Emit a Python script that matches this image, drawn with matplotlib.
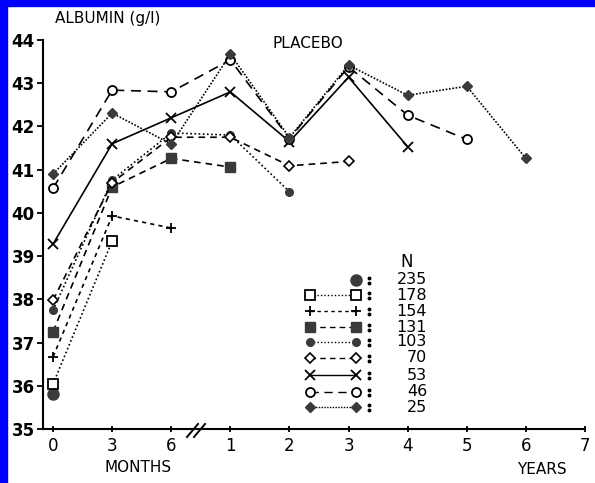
import matplotlib.pyplot as plt
from matplotlib.lines import Line2D

# x positions: 0,1,2 = months 0,3,6 ; 3..9 = years 1..7
xpos = [0, 1, 2, 3, 4, 5, 6, 7, 8, 9]
xlabels = ["0", "3", "6", "1", "2", "3", "4", "5", "6", "7"]

n_labels = ["235", "178", "154", "131", "103", "70", "53", "46", "25"]

alb_235 = [35.82]
alb_178 = [36.04, 39.35]
alb_154 = [36.67, 39.93, 39.65]
alb_131 = [37.25, 40.60, 41.26, 41.06]
alb_103 = [37.75, 40.76, 41.85, 41.80, 40.49]
alb_70 = [37.98, 40.70, 41.75, 41.75, 41.09, 41.19]
alb_53 = [39.28, 41.60, 42.20, 42.80, 41.65, 43.14, 41.53]
alb_46 = [40.57, 42.84, 42.80, 43.54, 41.72, 43.38, 42.26, 41.70]
alb_25 = [40.90, 42.31, 41.59, 43.67, 41.74, 43.42, 42.72, 42.93, 41.26]

series = [alb_235, alb_178, alb_154, alb_131, alb_103, alb_70, alb_53, alb_46, alb_25]

dark = "#3a3a3a"
styles = [
    dict(ls="none", marker="o", ms=8, mfc=dark, mec=dark),
    dict(ls=(0, (1, 1.5)), marker="s", ms=6.5, mfc="white", mec="black", mew=1.3),
    dict(ls=(0, (2.5, 2.5)), marker="+", ms=7, mec="black", mew=1.3),
    dict(ls=(0, (4, 3)), marker="s", ms=6.5, mfc=dark, mec=dark),
    dict(ls=(0, (1, 1.5)), marker="o", ms=5.5, mfc=dark, mec=dark),
    dict(ls=(0, (4, 3)), marker="D", ms=5, mfc="white", mec="black", mew=1.2),
    dict(ls="-", marker="x", ms=7, mec="black", mew=1.3),
    dict(ls=(0, (6, 4)), marker="o", ms=6.5, mfc="white", mec="black", mew=1.3),
    dict(ls=(0, (1, 1)), marker="D", ms=5.5, mfc=dark, mec=dark),
]

W, H = 595, 483
fig = plt.figure(figsize=(W / 100, H / 100), dpi=100)
fig.patch.set_facecolor("white")


def fx(px):
    return px / W


def fy(py):
    return 1 - py / H


# blue scan border (top and left)
fig.patches.append(plt.Rectangle((0, fy(6)), 1, 6 / H, transform=fig.transFigure,
                                 color="#0000ff", zorder=0))
fig.patches.append(plt.Rectangle((0, 0), 7 / W, 1, transform=fig.transFigure,
                                 color="#0000ff", zorder=0))

ax = fig.add_axes([fx(43), fy(429), fx(585) - fx(43), (429 - 40) / H])
ax.set_xlim(-0.17, 9)
ax.set_ylim(35, 44)

for vals, st in zip(series, styles):
    ax.plot(xpos[:len(vals)], vals, color="black", lw=1.2, clip_on=False, **st)

ax.spines["top"].set_visible(False)
ax.spines["right"].set_visible(False)
ax.spines["left"].set_linewidth(1.5)
ax.spines["bottom"].set_linewidth(1.5)
ax.set_yticks(range(35, 45))
ax.set_xticks(xpos)
ax.set_xticklabels(xlabels)
ax.tick_params(axis="y", direction="out", length=4, width=1.3, labelsize=12, pad=2)
ax.tick_params(axis="x", direction="inout", length=4, width=1.3, labelsize=12, pad=4)
for lab in ax.get_yticklabels():
    lab.set_fontweight("bold")

# axis break marks
for dx in (0, 7):
    fig.add_artist(Line2D([fx(187 + dx), fx(198 + dx)], [fy(437), fy(424)],
                          color="black", lw=1.4))

fig.text(fx(55), fy(18), "ALBUMIN (g/l)", fontsize=11, va="center", ha="left")
fig.text(fx(272), fy(44), "PLACEBO", fontsize=11, va="center", ha="left")
fig.text(fx(105), fy(468), "MONTHS", fontsize=11, va="center", ha="left")
fig.text(fx(517), fy(470), "YEARS", fontsize=11, va="center", ha="left")

# manual legend
fig.text(fx(407), fy(262), "N", fontsize=12, ha="center", va="center")
rows_y = [280, 295, 311, 327, 342, 358, 375, 392, 407]
for lab, st, ry in zip(n_labels, styles, rows_y):
    if st["ls"] == "none":
        xs = [fx(356)]
    else:
        xs = [fx(310), fx(356)]
    fig.add_artist(Line2D(xs, [fy(ry)] * len(xs), color="black", lw=1.0, **st))
    # colon drawn as two dots
    fig.add_artist(Line2D([fx(369), fx(369)], [fy(ry - 2.5), fy(ry + 2.5)], ls="none",
                          marker="o", ms=1.8, color="black"))
    fig.text(fx(427), fy(ry), lab, fontsize=11.5, ha="right", va="center")

fig.savefig("out.png", dpi=100, facecolor="white")
